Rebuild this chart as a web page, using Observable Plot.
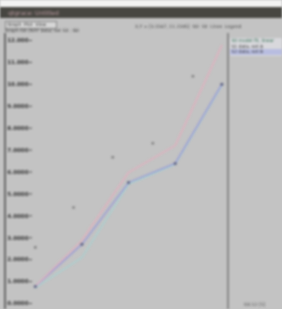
<!DOCTYPE html>
<html><head><meta charset="utf-8">
<script src="https://cdn.jsdelivr.net/npm/d3@7"></script>
<script src="https://cdn.jsdelivr.net/npm/@observablehq/plot@0.6"></script>
<style>
html,body{margin:0;padding:0;background:#c3c3c3;width:282px;height:309px;overflow:hidden;font-family:"DejaVu Sans",sans-serif;}
#wrap{position:relative;width:282px;height:309px;filter:blur(1px);}
#topw{position:absolute;left:0;top:0;width:282px;height:7px;background:#f2f2f2;}
#bar{position:absolute;left:0;top:7px;width:282px;height:11px;background:#474641;color:#b99aa0;font-size:6px;line-height:11px;padding-left:8px;box-sizing:border-box;}
#btn{position:absolute;left:5px;top:21px;width:50px;height:6px;border:1px solid #888;background:#d6d6d6;font-size:4.5px;line-height:6px;color:#333;}
#sub{position:absolute;left:5px;top:28px;font-size:4.5px;color:#333;}
#info{position:absolute;left:135px;top:24px;font-size:4.5px;color:#444;white-space:nowrap;}
#sep{position:absolute;left:227px;top:33px;width:2px;height:276px;background:#8a8a8a;}
#leg{position:absolute;left:230px;top:38px;width:52px;height:18px;background:#d8d8dc;font-size:4.5px;line-height:5.5px;color:#333;overflow:hidden;white-space:nowrap;}
#foot{position:absolute;left:244px;top:302px;font-size:4.5px;color:#555;}
#left{position:absolute;left:4px;top:33px;width:2px;height:276px;background:#6a6a6a;}
#chart{position:absolute;left:0;top:30px;}
</style></head><body>
<div id="wrap">
<div id="topw"></div>
<div id="bar">qtgrace: Untitled</div>
<div id="btn">&nbsp;Graph &nbsp;Plot &nbsp;View</div>
<div id="sub">Graph G0 (NXY data) Set S0 : G0</div>
<div id="info">X,Y = [3.1567, 11.2345] &nbsp;G0 &nbsp;S0 &nbsp;Lines &nbsp;Legend</div>
<div id="chart"></div>
<div id="left"></div>
<div id="sep"></div>
<div id="leg"><div style="color:#2a6a4a">&nbsp;S0 model fit, linear</div><div>&nbsp;S1 data, set A</div><div style="background:#b8bde0">&nbsp;S2 data, set B</div></div>
<div id="foot">G0.S2 [5]</div>
</div>
<script>
const xs = [0, 1, 2, 3, 4];
const pinkY = [0.78, 2.88, 5.98, 7.21, 11.78];
const blueY = [0.78, 2.70, 5.52, 6.39, 10.00];
const cyanY = [0.72, 2.10, 5.45, 6.35, 9.95];
const dotX = [0, 0.82, 1.66, 2.52, 3.38];
const dotY = [2.56, 4.38, 6.67, 7.31, 10.37];
const yTicks = [0,1,2,3,4,5,6,7,8,9,10,11,12];
const yTickLabels = ["0.0000","1.0000","2.0000","3.0000","4.0000","5.0000","6.0000","7.0000","8.0000","9.0000","10.000","11.000","12.000"];

const toRows = (ys, s) => xs.map((x, i) => ({x, y: ys[i], s}));
const pink = toRows(pinkY, "pink"), blue = toRows(blueY, "blue"), cyan = toRows(cyanY, "cyan");
const dots = dotX.map((x, i) => ({x, y: dotY[i]}));

const chart = Plot.plot({
  width: 282, height: 279,
  marginLeft: 32, marginRight: 56, marginTop: 10, marginBottom: 6,
  style: {background: "transparent", fontSize: "5px", fontFamily: "DejaVu Sans"},
  x: {domain: [-0.06, 4.1], axis: null},
  y: {domain: [0, 12], label: null},
  marks: [
    Plot.axisY({ticks: yTicks, tickFormat: d => yTickLabels[yTicks.indexOf(d)], tickSize: 3, tickPadding: 1, fill: "#333", stroke: "#555", fontSize: 5.5, fontWeight: "bold"}),
    Plot.line(cyan, {x: "x", y: "y", stroke: "#a6d2d2", strokeWidth: 1.3}),
    Plot.line(blue, {x: "x", y: "y", stroke: "#9598d8", strokeWidth: 1.3}),
    Plot.line(pink, {x: "x", y: "y", stroke: "#e4aebe", strokeWidth: 1.3}),
    Plot.dot(blue, {x: "x", y: "y", r: 1.5, fill: "#5a5e80"}),
    Plot.dot(dots, {x: "x", y: "y", r: 1.3, fill: "#7a7a7a"})
  ]
});
document.getElementById("chart").appendChild(chart);
</script>
</body></html>
